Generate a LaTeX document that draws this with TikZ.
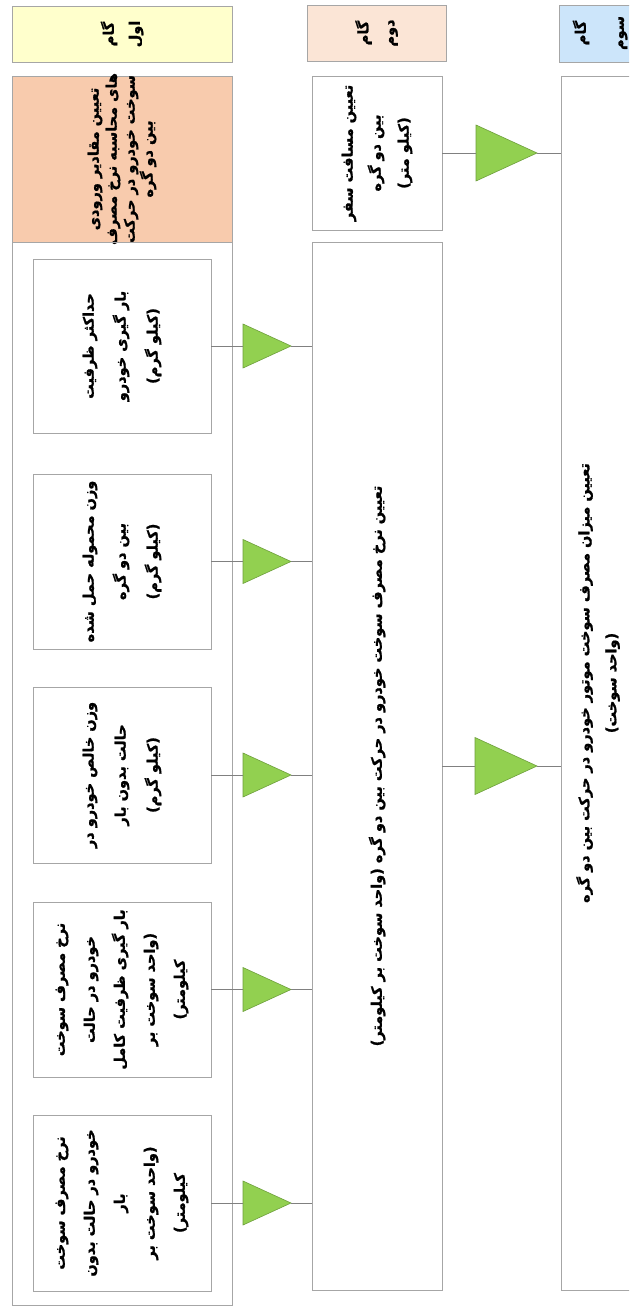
\documentclass[tikz,border=0pt]{standalone}
\usepackage{fontspec}
\usetikzlibrary{shapes.geometric}
\TeXXeTstate=1
\newfontfamily\fafont[Script=Arabic, BoldFeatures={FakeBold=1.2}]{DejaVu Sans}
\newcommand{\rl}[1]{\beginR #1\endR}
\definecolor{edgegray}{HTML}{A6A6A6}
\definecolor{linkgray}{HTML}{808080}
\definecolor{stepone}{HTML}{FFFFCC}
\definecolor{steptwo}{HTML}{FBE5D6}
\definecolor{stepthree}{HTML}{CCE5FA}
\definecolor{inputs}{HTML}{F8CBAD}
\definecolor{mergefill}{HTML}{92D050}
\definecolor{mergeedge}{HTML}{6E9F3C}
\tikzset{
  box/.style={draw=edgegray, line width=0.9pt, inner sep=0pt, outer sep=0pt, anchor=north west},
  vtext/.style={rotate=90, align=center, inner sep=0pt,
    font=\fafont\bfseries\fontsize{14.5}{#1}\selectfont},
  vtext/.default=30,
  merge/.style={isosceles triangle, isosceles triangle stretches, fill=mergefill,
    draw=mergeedge, line width=0.6pt, inner sep=0pt, outer sep=0pt, anchor=west},
  link/.style={draw=linkgray, line width=0.7pt},
}
\begin{document}
\begin{tikzpicture}[x=1pt,y=-1pt]
\useasboundingbox (0,0) rectangle (629,1308);
\clip (0,0) rectangle (629,1308);
\fill[white] (0,0) rectangle (629,1308);

% step headers
\node[box, fill=stepone, minimum width=220pt, minimum height=56pt] (h1) at (12,6) {};
\node[box, fill=steptwo, minimum width=139pt, minimum height=56pt] (h2) at (307,5) {};
\node[box, fill=stepthree, minimum width=140pt, minimum height=57pt] (h3) at (559,5) {};
\node[vtext=26] (h1t) at (h1.center) {\rl{گام}\\\rl{اول}};
\node[vtext=26] (h2t) at (h2.center) {\rl{گام}\\\rl{دوم}};
\node[vtext=38] (h3t) at (600,33) {\rl{گام}\\\rl{سوم}};

% step one: inputs
\node[box, fill=inputs, minimum width=220pt, minimum height=166pt] (in) at (12,76) {};
\node[vtext=18] (int) at (in.center) {\rl{تعیین مقادیر ورودی}\\\rl{های محاسبه نرخ مصرف}\\\rl{سوخت خودرو در حرکت}\\\rl{بین دو گره}};
\node[box, minimum width=220pt, minimum height=1063pt] (c1) at (12,242) {};

\node[box, minimum width=178pt, minimum height=174pt] (b1) at (33,259) {};
\node[box, minimum width=178pt, minimum height=175pt] (b2) at (33,474) {};
\node[box, minimum width=178pt, minimum height=176pt] (b3) at (33,687) {};
\node[box, minimum width=178pt, minimum height=175pt] (b4) at (33,902) {};
\node[box, minimum width=178pt, minimum height=176pt] (b5) at (33,1115) {};
\node[vtext=32] (b1t) at (b1.center) {\rl{حداکثر ظرفیت}\\\rl{بار گیری خودرو}\\\rl{(کیلو گرم)}};
\node[vtext=32] (b2t) at (b2.center) {\rl{وزن محموله حمل شده}\\\rl{بین دو گره}\\\rl{(کیلو گرم)}};
\node[vtext=32] (b3t) at (b3.center) {\rl{وزن خالص خودرو در}\\\rl{حالت بدون بار}\\\rl{(کیلو گرم)}};
\node[vtext=30] (b4t) at (b4.center) {\rl{نرخ مصرف سوخت}\\\rl{خودرو در حالت}\\\rl{بار گیری ظرفیت کامل}\\\rl{(واحد سوخت بر}\\\rl{کیلومتر)}};
\node[vtext=30] (b5t) at (b5.center) {\rl{نرخ مصرف سوخت}\\\rl{خودرو در حالت بدون}\\\rl{بار}\\\rl{(واحد سوخت بر}\\\rl{کیلومتر)}};

% step two
\node[box, minimum width=130pt, minimum height=154pt] (d) at (312,76) {};
\node[vtext=28] (dt) at (d.center) {\rl{تعیین مسافت سفر}\\\rl{بین دو گره}\\\rl{(کیلو متر)}};
\node[box, minimum width=130pt, minimum height=1048pt] (c2) at (312,242) {};
\node[vtext] (c2t) at (c2.center) {\rl{تعیین نرخ مصرف سوخت خودرو در حرکت بین دو گره (واحد سوخت بر کیلومتر)}};

% step three
\node[box, minimum width=140pt, minimum height=1214pt] (c3) at (561,76) {};
\node[vtext=27] (c3t) at (598,683) {\rl{تعیین میزان مصرف سوخت موتور خودرو در حرکت بین دو گره}\\\rl{(واحد سوخت)}};

% merge markers and links
\foreach \b/\m in {b1/m1,b2/m2,b3/m3,b4/m4,b5/m5}{
  \node[merge, minimum width=44pt, minimum height=48pt, xshift=32pt] (\m) at (\b.east) {};
  \draw[link] (\b.east) -- (\m.west);
  \draw[link] (\m.apex) -- (\m.apex -| c2.west);
}
\node[merge, minimum width=56pt, minimum height=61pt, xshift=34pt] (m6) at (d.east) {};
\draw[link] (d.east) -- (m6.west);
\draw[link] (m6.apex) -- (m6.apex -| c3.west);
\node[merge, minimum width=57pt, minimum height=62pt, xshift=33pt] (m7) at (c2.east) {};
\draw[link] (c2.east) -- (m7.west);
\draw[link] (m7.apex) -- (m7.apex -| c3.west);
\end{tikzpicture}
\end{document}
